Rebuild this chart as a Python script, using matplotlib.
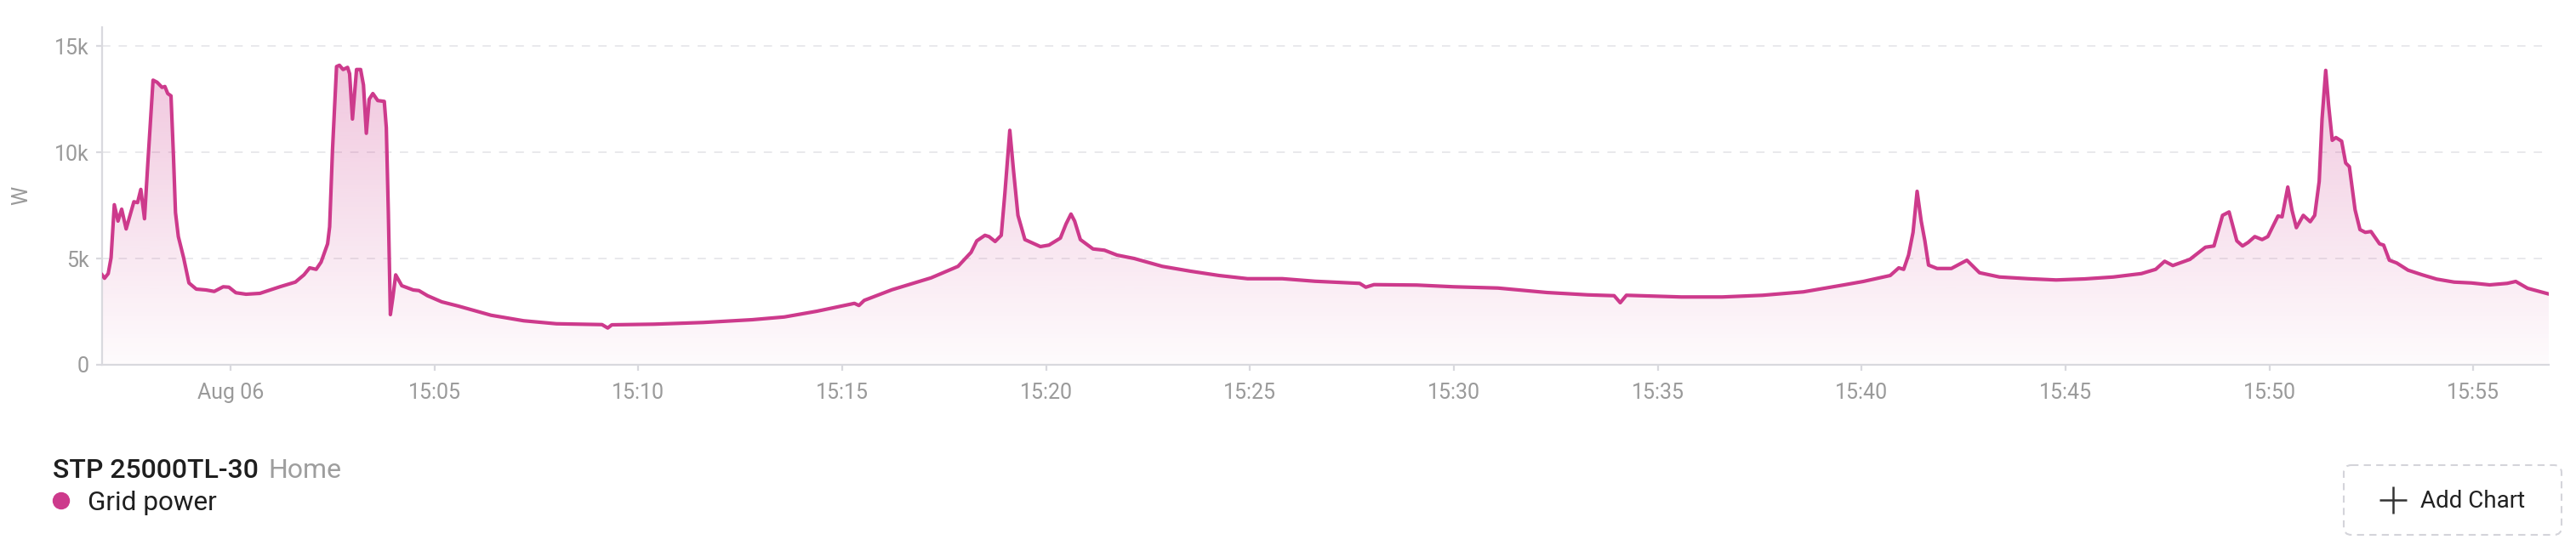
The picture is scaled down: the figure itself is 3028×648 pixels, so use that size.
import matplotlib
matplotlib.use("Agg")
import matplotlib.pyplot as plt
import numpy as np
from matplotlib.patches import Circle, FancyBboxPatch, Polygon

# minutes relative to 15:00 (Aug 06), grid power in W
minutes = [
    -3.15, -3.09, -3.00, -2.93, -2.85, -2.76, -2.67, -2.56, -2.37, -2.28,
    -2.20, -2.11, -2.03, -1.90, -1.80, -1.68, -1.61, -1.54, -1.46, -1.40,
    -1.35, -1.28, -1.15, -1.02, -0.84, -0.60, -0.40, -0.18, -0.04, 0.13,
    0.38, 0.72, 1.21, 1.59, 1.80, 1.94, 2.10, 2.22, 2.38, 2.43,
    2.50, 2.60, 2.67, 2.76, 2.87, 2.92, 2.99, 3.09, 3.19, 3.26,
    3.33, 3.40, 3.49, 3.61, 3.77, 3.82, 3.87, 3.92, 3.98, 4.05,
    4.20, 4.48, 4.62, 4.83, 5.18, 5.59, 6.39, 7.19, 7.99, 9.11,
    9.25, 9.35, 10.39, 11.59, 12.79, 13.58, 14.38, 15.30, 15.41, 15.54,
    16.22, 17.18, 17.84, 18.16, 18.30, 18.50, 18.60, 18.75, 18.90, 18.99,
    19.11, 19.20, 19.31, 19.48, 19.86, 20.07, 20.35, 20.49, 20.61, 20.70,
    20.84, 21.15, 21.43, 21.74, 22.16, 22.85, 23.55, 24.24, 24.94, 25.79,
    26.59, 27.69, 27.84, 28.04, 29.09, 29.99, 31.08, 32.28, 33.28, 33.93,
    34.08, 34.23, 35.58, 36.58, 37.57, 38.57, 39.57, 40.04, 40.70, 40.91,
    41.03, 41.15, 41.26, 41.36, 41.46, 41.55, 41.64, 41.85, 42.20, 42.58,
    42.89, 43.38, 44.08, 44.77, 45.47, 46.17, 46.86, 47.21, 47.43, 47.63,
    48.05, 48.43, 48.64, 48.85, 49.01, 49.20, 49.34, 49.48, 49.64, 49.82,
    49.96, 50.21, 50.31, 50.45, 50.55, 50.66, 50.83, 51.00, 51.11, 51.22,
    51.29, 51.38, 51.45, 51.54, 51.63, 51.77, 51.87, 51.96, 52.10, 52.22,
    52.35, 52.49, 52.70, 52.80, 52.94, 53.12, 53.40, 53.75, 54.10, 54.53,
    54.95, 55.40, 55.83, 56.04, 56.33, 56.85,
]
grid_power = [
    4230, 4070, 4290, 5030, 7530, 6760, 7320, 6390, 7670, 7630,
    8250, 6870, 9430, 13390, 13290, 13050, 13090, 12760, 12650, 9830,
    7160, 6030, 5030, 3850, 3560, 3520, 3450, 3670, 3650, 3390,
    3320, 3360, 3670, 3890, 4230, 4560, 4490, 4830, 5690, 6490,
    10090, 14030, 14090, 13890, 13990, 13690, 11560, 13890, 13890, 13160,
    10890, 12490, 12760, 12430, 12390, 11160, 7160, 2360, 3160, 4230,
    3720, 3520, 3490, 3250, 2960, 2760, 2330, 2070, 1930, 1890,
    1730, 1880, 1910, 1990, 2120, 2250, 2520, 2890, 2790, 3030,
    3530, 4090, 4630, 5290, 5830, 6090, 6030, 5800, 6090, 8090,
    11030, 9160, 7030, 5890, 5560, 5630, 5960, 6630, 7090, 6760,
    5890, 5450, 5390, 5160, 5000, 4630, 4400, 4200, 4050, 4050,
    3930, 3830, 3650, 3770, 3750, 3670, 3610, 3400, 3290, 3250,
    2920, 3270, 3190, 3190, 3270, 3430, 3760, 3920, 4200, 4560,
    4490, 5160, 6230, 8160, 6760, 5830, 4690, 4530, 4530, 4920,
    4330, 4130, 4050, 3990, 4040, 4130, 4290, 4490, 4870, 4670,
    4960, 5530, 5590, 7030, 7190, 5830, 5590, 5760, 6030, 5890,
    6030, 7000, 6960, 8360, 7290, 6450, 7030, 6730, 7030, 8630,
    11560, 13850, 12230, 10560, 10690, 10520, 9490, 9320, 7290, 6360,
    6230, 6270, 5690, 5630, 4920, 4790, 4450, 4230, 4030, 3890,
    3850, 3760, 3830, 3920, 3600, 3330,
]

x_tick_minutes = [0, 5, 10, 15, 20, 25, 30, 35, 40, 45, 50, 55]
x_tick_labels = ["Aug 06", "15:05", "15:10", "15:15", "15:20", "15:25",
                 "15:30", "15:35", "15:40", "15:45", "15:50", "15:55"]
y_ticks = [0, 5000, 10000, 15000]
y_tick_labels = ["0", "5k", "10k", "15k"]

LINE = "#cd3a8c"
GRID = "#e9e9ec"
AXIS = "#d9d9de"
TICK_TXT = "#9a9a9a"

plt.rcParams["font.family"] = ["Roboto", "DejaVu Sans"]

W, H = 3028, 648
fig = plt.figure(figsize=(W / 100, H / 100), dpi=100)
fig.patch.set_facecolor("white")

x0, x1 = 120, 2996
y_top, y_bot = 32, 429
ax = fig.add_axes([x0 / W, 1 - y_bot / H, (x1 - x0) / W, (y_bot - y_top) / H])

xmin, xmax = -3.15, 56.85
ymax = 15880
ax.set_xlim(xmin, xmax)
ax.set_ylim(0, ymax)

# gradient fill under the line
grad = np.linspace(0.02, 0.32, 256).reshape(-1, 1)
rgba = np.zeros((256, 1, 4))
rgba[..., 0] = 205 / 255
rgba[..., 1] = 58 / 255
rgba[..., 2] = 140 / 255
rgba[..., 3] = grad
img = ax.imshow(rgba, extent=[xmin, xmax, 0, ymax], origin="lower",
                aspect="auto", zorder=1, interpolation="bilinear")
verts = [(minutes[0], 0)] + list(zip(minutes, grid_power)) + [(minutes[-1], 0)]
clip = Polygon(verts, closed=True, facecolor="none", edgecolor="none",
               transform=ax.transData)
ax.add_patch(clip)
img.set_clip_path(clip)

ax.plot(minutes, grid_power, color=LINE, lw=3.0, solid_joinstyle="round",
        zorder=3)

for yv in y_ticks[1:]:
    ax.axhline(yv, color=GRID, lw=1.4, dashes=(5, 5), zorder=0)

for side in ["top", "right"]:
    ax.spines[side].set_visible(False)
for side in ["left", "bottom"]:
    ax.spines[side].set_color(AXIS)
    ax.spines[side].set_linewidth(1.6)

ax.set_xticks(x_tick_minutes)
ax.set_xticklabels(x_tick_labels)
ax.set_yticks(y_ticks)
ax.set_yticklabels(y_tick_labels)
ax.tick_params(axis="x", colors=AXIS, labelcolor=TICK_TXT, labelsize=18,
               length=5, width=1.6, pad=10)
ax.tick_params(axis="y", colors=AXIS, labelcolor=TICK_TXT, labelsize=18,
               length=5, width=1.6, pad=6)

# overlay in pixel coordinates for the axis title, legend and button
ov = fig.add_axes([0, 0, 1, 1], zorder=5)
ov.set_xlim(0, W)
ov.set_ylim(H, 0)
ov.axis("off")
ov.patch.set_alpha(0)

ov.text(25, 230, "W", rotation=90, fontsize=18, color=TICK_TXT,
        ha="center", va="center")

ov.text(62, 562, "STP 25000TL-30", fontsize=23, fontweight="medium",
        color="#1f1f1f", va="baseline", ha="left")
ov.text(315, 562, "Home", fontsize=23, color="#9e9e9e", va="baseline",
        ha="left")
ov.add_patch(Circle((72, 589), 9.5, color=LINE))
ov.text(103, 600, "Grid power", fontsize=22.7, color="#1f1f1f",
        va="baseline", ha="left")

box = FancyBboxPatch((2755, 547), 256, 82,
                     boxstyle="round,pad=0,rounding_size=9",
                     facecolor="white", edgecolor="#d4d4da", lw=1.5,
                     linestyle=(0, (4, 3)))
ov.add_patch(box)
ov.plot([2797, 2829], [588, 588], color="#333333", lw=1.8,
        solid_capstyle="butt")
ov.plot([2813, 2813], [572, 604], color="#333333", lw=1.8,
        solid_capstyle="butt")
ov.text(2845, 597, "Add Chart", fontsize=20, color="#222222",
        va="baseline", ha="left")

fig.savefig("out.png", dpi=100, facecolor="white")
